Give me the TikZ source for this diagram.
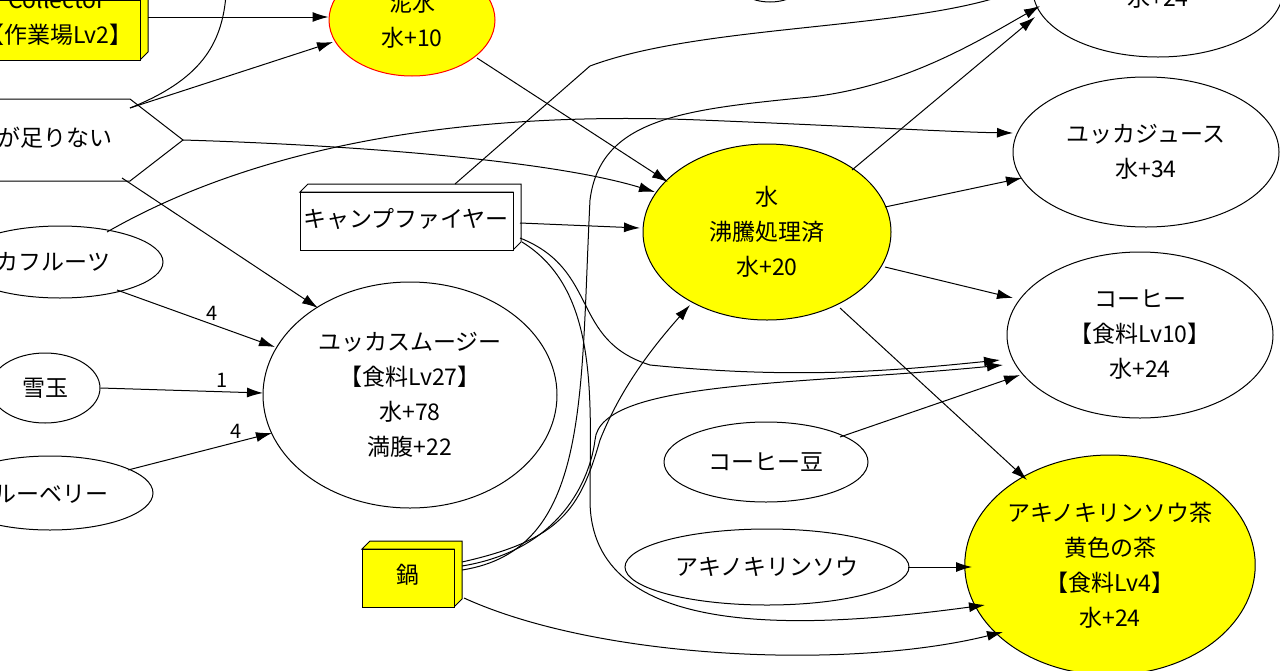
\documentclass[tikz,border=0pt]{standalone}
\usepackage{fontspec}
\newfontfamily\jp{Noto Sans CJK JP}
\usetikzlibrary{shapes.geometric,arrows.meta}
\definecolor{yy}{RGB}{255,255,0}
\begin{document}
\begin{tikzpicture}[x=1pt,y=-1pt,
  every node/.style={font=\jp\fontsize{23}{35}\selectfont},
  el/.style={draw,line width=1pt,ellipse,inner sep=0pt,align=center},
  yel/.style={el,fill=yy},
  ed/.style={-{Latex[length=16pt,width=10pt]},line width=1pt},
  ln/.style={line width=1pt},
  lab/.style={font=\jp\fontsize{20}{22}\selectfont}]
\useasboundingbox (0,0) rectangle (1280,670);
\clip (0,0) rectangle (1280,670);
% nodes
\node[el,minimum width=250pt,minimum height=134pt] (tr) at (1158,-10) {};
\node at (1158,-2) {水+24};
\node[el,minimum width=70pt,minimum height=44pt] (sm0) at (770,-20) {};
\node[yel,draw=red,minimum width=166pt,minimum height=112pt] (mud) at (412,20) {泥水\\水+10};
\node[el,minimum width=206pt,minimum height=72pt] (yf) at (60,262) {};
\node at (30,262) {ユッカフルーツ};
\node[el,minimum width=110pt,minimum height=70pt] (snow) at (45,388) {雪玉};
\node[el,minimum width=206pt,minimum height=74pt] (bb) at (50,493) {};
\node at (40,493) {ブルーベリー};
\node[el,minimum width=294pt,minimum height=226pt] (smo) at (410,395) {ユッカスムージー\\【食料Lv27】\\水+78\\満腹+22};
\node[yel,minimum width=248pt,minimum height=176pt] (w) at (767,232) {水\\沸騰処理済\\水+20};
\node[el,minimum width=266pt,minimum height=150pt] (yj) at (1146,152) {ユッカジュース\\水+34};
\node[el,minimum width=266pt,minimum height=166pt] (cof) at (1140,335) {コーヒー\\【食料Lv10】\\水+24};
\node[el,minimum width=204pt,minimum height=80pt] (bean) at (766,462) {コーヒー豆};
\node[el,minimum width=284pt,minimum height=76pt] (ak) at (767,567) {アキノキリンソウ};
\node[yel,minimum width=268pt,minimum height=220pt] (tea) at (1110,565) {アキノキリンソウ茶\\黄色の茶\\【食料Lv4】\\水+24};
% 3d boxes
\draw[ln,fill=yy] (-20,-8)--(148,-8)--(148,52)--(140,60)--(140,0)--cycle;
\draw[ln,fill=yy] (-20,0) rectangle (140,60);
\node[align=center,anchor=east] (col) at (136,18) {Collector\\【作業場Lv2】};
\draw[ln,fill=white] (300,192)--(308,184)--(521,184)--(521,242)--(513,250)--(513,192)--cycle;
\draw[ln,fill=white] (300,192) rectangle (513,250);
\node (cf) at (406,219) {キャンプファイヤー};
\draw[ln,fill=yy] (362,549)--(370,541)--(462,541)--(462,599)--(454,607)--(454,549)--cycle;
\draw[ln,fill=yy] (362,549) rectangle (454,607);
\node (pot) at (408,575) {鍋};
% hexagon
\draw[ln,fill=white] (-40,99)--(130,99)--(183,140)--(130,181)--(-40,181)--cycle;
\node[anchor=east] (hex) at (116,138) {水が足りない};
\coordinate (hexr) at (183,140);
\coordinate (hextr) at (130,108);
\coordinate (hexbr) at (122,178);
% edges
\draw[ed] (148,17) -- (mud.west |- 0,17);
\draw[ed] (hextr) -- (333,42);
\draw[ln] (hextr) .. controls (200,80) and (222,45) .. (226,-5);
\draw[ed] (hexr) .. controls (350,145) and (550,160) .. (655,192);
\draw[ed] (hexbr) -- (318,308);
\draw[ed] (107,232) .. controls (250,150) and (450,110) .. (700,120) .. controls (850,126) and (950,132) .. (1013,133);
\draw[ed] (117,290) -- node[lab,above,pos=0.6]{4} (275,347);
\draw[ed] (snow.east) -- node[lab,above,pos=0.75]{1} (263,393);
\draw[ed] (128,470) -- node[lab,above,pos=0.75]{4} (272,433);
\draw[ed] (477,58) -- (668,182);
\draw[ln] (455,184) -- (590,66) .. controls (700,25) and (900,30) .. (1005,-5);
\draw[ed] (520,223) -- (640,228);
\draw[ed] (852,170) -- (1035,17);
\draw[ed] (885,207) -- (1022,178);
\draw[ed] (885,267) -- (1013,298);
\draw[ed] (840,308) -- (1027,480);
\draw[ed] (840,437) -- (1020,375);
\draw[ed] (908,567) -- (972,567);
% from campfire lower right
\draw[ed] (520,238) .. controls (600,270) and (570,340) .. (650,365) .. controls (800,380) and (900,370) .. (1000,360);
\draw[ed] (522,242) .. controls (600,290) and (590,400) .. (590,500) .. controls (590,640) and (800,630) .. (985,605);
% from pot
\draw[ed] (462,562) .. controls (560,540) and (580,510) .. (600,440) .. controls (620,390) and (650,350) .. (690,305);
\draw[ed] (462,566) .. controls (560,550) and (590,480) .. (595,440) .. controls (600,380) and (800,385) .. (1003,365);
\draw[ed] (462,570) .. controls (590,550) and (580,400) .. (590,200) .. controls (600,120) and (680,110) .. (800,98) .. controls (900,90) and (980,40) .. (1040,6);
\draw[ed] (464,598) .. controls (600,660) and (850,670) .. (1003,632);
\end{tikzpicture}
\end{document}
